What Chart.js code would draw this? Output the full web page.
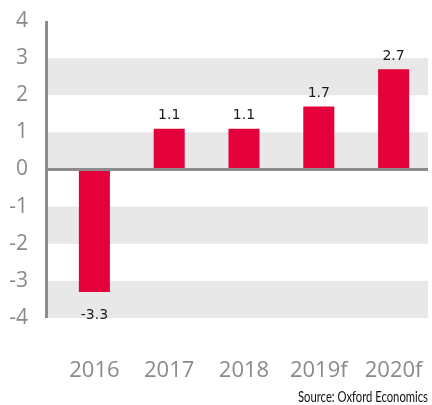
<!DOCTYPE html>
<html>
<head>
<meta charset="utf-8">
<script src="https://cdn.jsdelivr.net/npm/chart.js@4/dist/chart.umd.min.js"></script>
<style>
  html, body { margin: 0; padding: 0; background: #fff; }
  #wrap { width: 432px; height: 405px; position: relative; }
</style>
</head>
<body>
<div id="wrap"><canvas id="chart"></canvas></div>
<script>
const categories = ['2016', '2017', '2018', '2019f', '2020f'];
const growth = [-3.3, 1.1, 1.1, 1.7, 2.7];
const yTicks = [4, 3, 2, 1, 0, -1, -2, -3, -4];
const bandRanges = [[3, 2], [1, 0], [-1, -2], [-3, -4]];
const sourceText = 'Source: Oxford Economics';

const axisGrey = '#8c8c8c';
const barRed = '#e4003b';

// background bands, axis lines, value labels and the source note
const decor = {
    id: 'decor',
    beforeDatasetsDraw(chart) {
        const ctx = chart.ctx;
        const y = chart.scales.y;
        const axisX = 46;
        const right = 428;
        ctx.save();
        ctx.fillStyle = '#e8e8e8';
        bandRanges.forEach(([a, b]) => {
            const top = y.getPixelForValue(a);
            const bottom = y.getPixelForValue(b);
            ctx.fillRect(axisX, top, right - axisX, bottom - top);
        });
        ctx.restore();
    },
    afterDatasetsDraw(chart) {
        const ctx = chart.ctx;
        const y = chart.scales.y;
        const axisX = 46;
        const right = 428;
        ctx.save();
        ctx.strokeStyle = axisGrey;
        ctx.lineWidth = 3;
        // zero line
        const zero = y.getPixelForValue(0);
        ctx.beginPath();
        ctx.moveTo(axisX, zero);
        ctx.lineTo(right, zero);
        ctx.stroke();
        // y axis line
        ctx.beginPath();
        ctx.moveTo(axisX + 0.5, y.getPixelForValue(4));
        ctx.lineTo(axisX + 0.5, y.getPixelForValue(-4));
        ctx.stroke();

        // value labels
        ctx.fillStyle = '#1a1a1a';
        ctx.font = '14px "DejaVu Sans", sans-serif';
        ctx.textAlign = 'center';
        ctx.textBaseline = 'middle';
        const meta = chart.getDatasetMeta(0);
        meta.data.forEach((bar, i) => {
            const v = growth[i];
            const py = v >= 0 ? bar.y - 13 : bar.y + 23;
            ctx.fillText(v.toFixed(1), bar.x, py);
        });

        // source, squeezed a little to match the condensed original face
        ctx.fillStyle = '#111';
        ctx.font = '15px "Lato", sans-serif';
        ctx.textAlign = 'right';
        const w = ctx.measureText(sourceText).width;
        const squeeze = Math.min(1, 130 / w);
        ctx.translate(428, 397);
        ctx.scale(squeeze, 1);
        ctx.fillText(sourceText, 0, 0);
        ctx.restore();
    }
};

new Chart(document.getElementById('chart'), {
    type: 'bar',
    data: {
        labels: categories,
        datasets: [{
            data: growth,
            backgroundColor: barRed,
            borderWidth: 0,
            barPercentage: 0.415,
            categoryPercentage: 1
        }]
    },
    options: {
        responsive: true,
        maintainAspectRatio: false,
        animation: false,
        layout: { padding: { top: 21, right: 1, left: 0, bottom: 0 } },
        plugins: {
            legend: { display: false },
            tooltip: { enabled: false }
        },
        scales: {
            x: {
                grid: { display: false, drawTicks: false },
                border: { display: false },
                ticks: {
                    color: '#8a8a8a',
                    font: { size: 22, family: '"Open Sans", sans-serif' },
                    padding: 40,
                    maxRotation: 0,
                    autoSkip: false
                },
                afterFit(scale) {
                    scale.height = 87;
                    scale.paddingLeft = 0;
                    scale.paddingRight = 0;
                }
            },
            y: {
                min: -4,
                max: 4,
                grid: { display: false, drawTicks: false },
                border: { display: false },
                afterBuildTicks(scale) {
                    scale.ticks = yTicks.map(v => ({ value: v }));
                },
                ticks: {
                    color: '#8a8a8a',
                    font: { size: 21, family: '"Open Sans", sans-serif' },
                    padding: 29
                },
                afterFit(scale) {
                    scale.width = 57;
                    scale.paddingTop = 0;
                    scale.paddingBottom = 0;
                }
            }
        }
    },
    plugins: [decor]
});
</script>
</body>
</html>
